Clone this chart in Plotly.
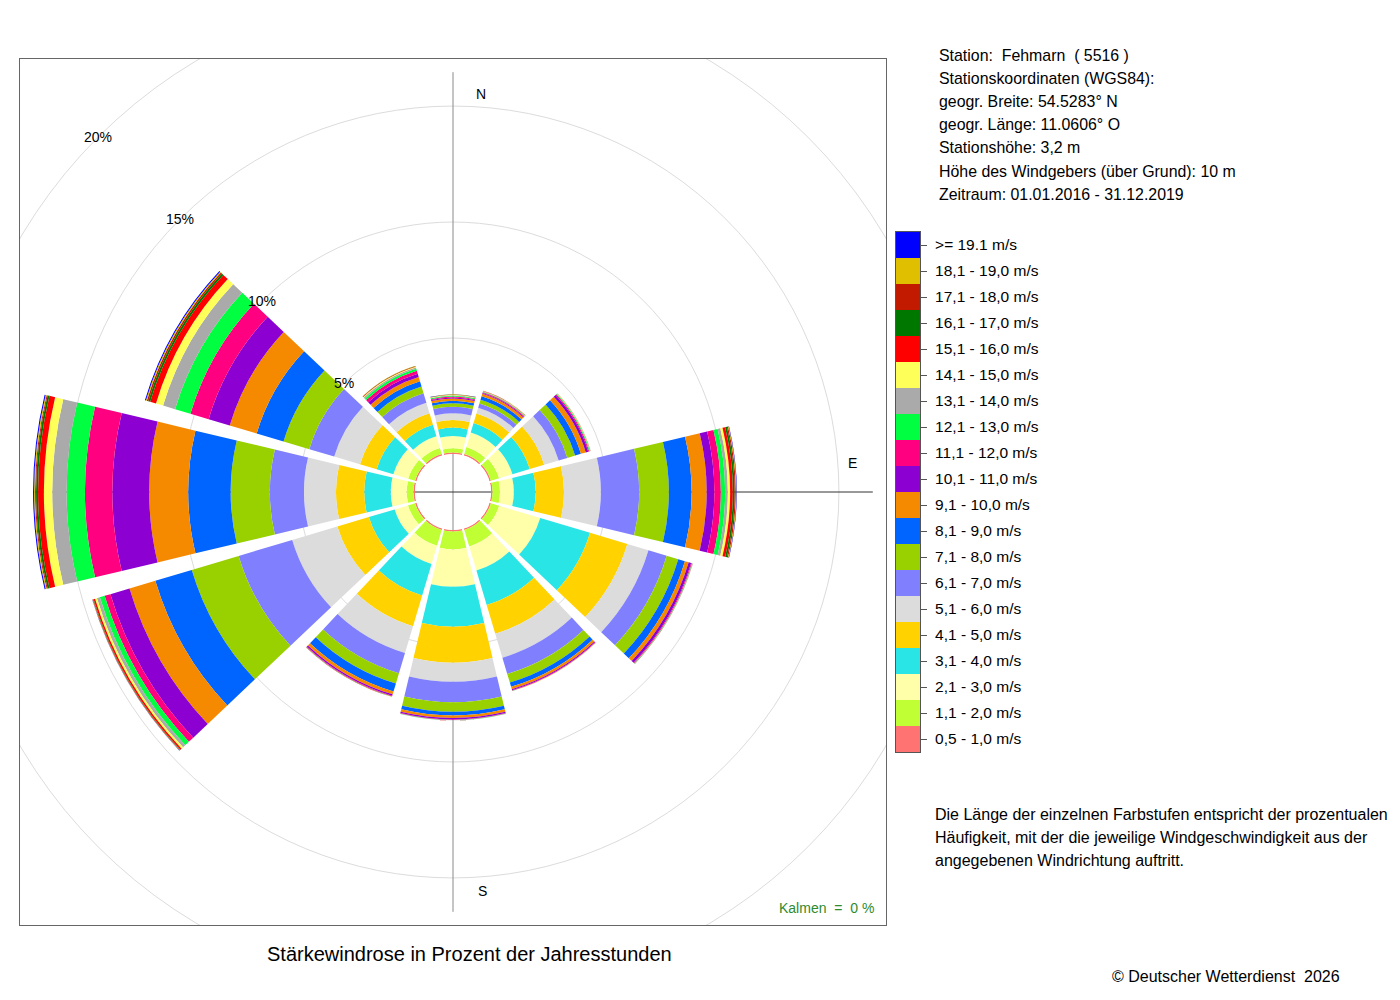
import math
import plotly.graph_objects as go

# ---------------- data (percent of hours) ----------------
directions = [0, 30, 60, 90, 120, 150, 180, 210, 240, 270, 300, 330]

speed_classes = [
    "0,5 - 1,0 m/s", "1,1 - 2,0 m/s", "2,1 - 3,0 m/s", "3,1 - 4,0 m/s",
    "4,1 - 5,0 m/s", "5,1 - 6,0 m/s", "6,1 - 7,0 m/s", "7,1 - 8,0 m/s",
    "8,1 - 9,0 m/s", "9,1 - 10,0 m/s", "10,1 - 11,0 m/s", "11,1 - 12,0 m/s",
    "12,1 - 13,0 m/s", "13,1 - 14,0 m/s", "14,1 - 15,0 m/s", "15,1 - 16,0 m/s",
    "16,1 - 17,0 m/s", "17,1 - 18,0 m/s", "18,1 - 19,0 m/s", ">= 19.1 m/s",
]

class_colors = [
    "#FF7373", "#BFFF33", "#FFFFAA", "#29E5E5", "#FFD200", "#DCDCDC",
    "#8080FF", "#99D000", "#0064FF", "#F58A00", "#8C00D2", "#FF0080",
    "#00FF40", "#AAAAAA", "#FFFF5A", "#FF0000", "#007800", "#C21A00",
    "#E0BE00", "#0000FF",
]

# values per direction, one entry per speed class (same order as speed_classes)
sector_000 = [0.065, 0.18, 0.53, 0.36, 0.33, 0.29, 0.28, 0.15, 0.11, 0.10, 0.04, 0.04, 0.035, 0.02, 0.017, 0.018, 0.004, 0.004, 0.002, 0.003]
sector_030 = [0.065, 0.32, 0.65, 0.43, 0.43, 0.26, 0.19, 0.17, 0.15, 0.11, 0.04, 0.034, 0.022, 0.013, 0.009, 0.009, 0.004, 0.004, 0.002, 0.002]
sector_060 = [0.065, 0.37, 0.60, 0.78, 0.65, 0.65, 0.39, 0.35, 0.26, 0.22, 0.11, 0.043, 0.03, 0.013, 0.009, 0.004, 0.002, 0.003, 0.001, 0.002]
sector_090 = [0.065, 0.32, 0.60, 0.94, 1.22, 1.59, 1.65, 1.28, 0.98, 0.65, 0.33, 0.28, 0.185, 0.117, 0.099, 0.116, 0.078, 0.051, 0.026, 0.018]
sector_120 = [0.065, 0.37, 1.85, 2.24, 1.68, 0.95, 0.82, 0.52, 0.30, 0.17, 0.11, 0.035, 0.017, 0.009, 0.004, 0.004, 0.003, 0.002, 0.001, 0.001]
sector_150 = [0.065, 0.75, 1.08, 1.55, 1.29, 1.08, 0.73, 0.39, 0.19, 0.11, 0.043, 0.022, 0.009, 0.004, 0.002, 0.002, 0.001, 0.001, 0.0, 0.0]
sector_180 = [0.065, 0.77, 1.61, 1.72, 1.55, 0.82, 0.89, 0.41, 0.16, 0.11, 0.056, 0.022, 0.009, 0.004, 0.002, 0.002, 0.001, 0.001, 0.0, 0.0]
sector_210 = [0.065, 0.71, 0.82, 1.42, 1.38, 1.21, 0.91, 0.46, 0.36, 0.13, 0.065, 0.03, 0.013, 0.004, 0.002, 0.002, 0.001, 0.001, 0.0, 0.0]
sector_240 = [0.065, 0.32, 0.60, 1.16, 1.42, 2.03, 2.41, 2.11, 1.64, 1.16, 0.86, 0.26, 0.215, 0.13, 0.086, 0.064, 0.022, 0.022, 0.012, 0.009]
sector_270 = [0.065, 0.29, 0.69, 1.14, 1.22, 1.38, 1.47, 1.69, 1.83, 1.68, 1.59, 1.18, 0.79, 0.62, 0.36, 0.25, 0.086, 0.043, 0.043, 0.044]
sector_300 = [0.065, 0.31, 0.67, 0.75, 0.75, 1.16, 1.12, 1.16, 1.21, 1.21, 0.95, 0.82, 0.69, 0.54, 0.32, 0.26, 0.086, 0.065, 0.043, 0.043]
sector_330 = [0.065, 0.28, 0.52, 0.52, 0.52, 0.47, 0.43, 0.30, 0.24, 0.19, 0.15, 0.13, 0.086, 0.065, 0.034, 0.022, 0.008, 0.004, 0.003, 0.002]

sectors = [sector_000, sector_030, sector_060, sector_090, sector_120, sector_150,
           sector_180, sector_210, sector_240, sector_270, sector_300, sector_330]

ring_values = [5, 10, 15, 20]
ring_labels = ["5%", "10%", "15%", "20%"]

station_lines = [
    "Station:  Fehmarn  ( 5516 )",
    "Stationskoordinaten (WGS84):",
    "geogr. Breite: 54.5283° N",
    "geogr. Länge: 11.0606° O",
    "Stationshöhe: 3,2 m",
    "Höhe des Windgebers (über Grund): 10 m",
    "Zeitraum: 01.01.2016 - 31.12.2019",
]
note_lines = [
    "Die Länge der einzelnen Farbstufen entspricht der prozentualen",
    "Häufigkeit, mit der die jeweilige Windgeschwindigkeit aus der",
    "angegebenen Windrichtung auftritt.",
]
calm_text = "Kalmen  =  0 %"
title_text = "Stärkewindrose in Prozent der Jahresstunden"
copyright_text = "© Deutscher Wetterdienst  2026"

# ---------------- layout geometry ----------------
W, H = 1400, 1000
FONT = "Liberation Sans, Arial, Helvetica, sans-serif"
BOX_X = (20, 886)
BOX_Y = (59, 925)
HOLE = 1.64       # calm circle radius, in percent units
RMAX = 17.03      # radial range shown by the polar subplot
LIM = HOLE + RMAX


def px(x):
    return x / W


def py(y):
    return 1 - y / H


def nb(s):
    return s.replace(" ", "\u00a0")


xdom = [px(BOX_X[0]), px(BOX_X[1])]
ydom = [py(BOX_Y[1]), py(BOX_Y[0])]

fig = go.Figure()

# axis cross (drawn beneath the bars)
totals = [sum(s) for s in sectors]
reach = HOLE + max(totals)
fig.add_trace(go.Scatter(x=[0, 0], y=[-reach, reach], mode="lines",
                         line=dict(color="#8A8A8A", width=1),
                         hoverinfo="skip", showlegend=False))
fig.add_trace(go.Scatter(x=[-reach, reach], y=[0, 0], mode="lines",
                         line=dict(color="#333333", width=1),
                         hoverinfo="skip", showlegend=False))

# wind rose bars
for ci, (name, col) in enumerate(zip(speed_classes, class_colors)):
    fig.add_trace(go.Barpolar(
        r=[s[ci] for s in sectors],
        theta=directions,
        width=[26.8] * len(directions),
        marker=dict(color=col, line=dict(width=0)),
        name=name, showlegend=False, hoverinfo="skip",
    ))

# legend column
fig.add_trace(go.Bar(
    x=[1] * len(speed_classes), y=speed_classes, orientation="h",
    marker=dict(color=class_colors, line=dict(width=0)), width=1,
    xaxis="x2", yaxis="y2", showlegend=False, hoverinfo="skip",
))

shapes = []
for v in ring_values:
    rr = HOLE + v
    shapes.append(dict(type="circle", xref="x", yref="y", x0=-rr, y0=-rr,
                       x1=rr, y1=rr, layer="below",
                       line=dict(color="#DCDCDC", width=1)))

ann = []
ang = math.radians(315)
for v, lab in zip(ring_values, ring_labels):
    rr = HOLE + v
    ann.append(dict(x=rr * math.sin(ang), y=rr * math.cos(ang), xref="x", yref="y",
                    text=lab, showarrow=False, xanchor="center", yanchor="middle",
                    font=dict(size=14, color="black")))

for lab, (x, y) in zip(["N", "E", "S"], [(481, 94), (852, 463), (482, 891)]):
    ann.append(dict(x=px(x), y=py(y), xref="paper", yref="paper", text=lab,
                    showarrow=False, xanchor="center", yanchor="middle",
                    font=dict(size=14, color="black")))

for i, line in enumerate(station_lines):
    ann.append(dict(x=px(937), y=py(55 + i * 23.2), xref="paper", yref="paper",
                    text=nb(line), showarrow=False, xanchor="left", yanchor="middle",
                    font=dict(size=15.9, color="black")))

for i, line in enumerate(note_lines):
    ann.append(dict(x=px(933), y=py(814 + i * 23), xref="paper", yref="paper",
                    text=nb(line), showarrow=False, xanchor="left", yanchor="middle",
                    font=dict(size=16, color="black")))

ann.append(dict(x=px(876), y=py(908), xref="paper", yref="paper", text=nb(calm_text),
                showarrow=False, xanchor="right", yanchor="middle",
                font=dict(size=14, color="#2E8B2E")))
ann.append(dict(x=px(470), y=py(954), xref="paper", yref="paper", text=title_text,
                showarrow=False, xanchor="center", yanchor="middle",
                font=dict(size=20, color="black")))
ann.append(dict(x=px(1342), y=py(976), xref="paper", yref="paper", text=nb(copyright_text),
                showarrow=False, xanchor="right", yanchor="middle",
                font=dict(size=16, color="black")))

box_axis = dict(range=[-LIM, LIM], showgrid=False, zeroline=False, showticklabels=False,
                ticks="", showline=True, mirror=True, linecolor="#666666", linewidth=1,
                fixedrange=True)

fig.update_layout(
    width=W, height=H, margin=dict(l=0, r=0, t=0, b=0, pad=0),
    template="none", paper_bgcolor="white", plot_bgcolor="rgba(0,0,0,0)",
    font=dict(family=FONT, color="black"),
    showlegend=False,
    xaxis=dict(domain=xdom, anchor="y", **box_axis),
    yaxis=dict(domain=ydom, anchor="x", **box_axis),
    xaxis2=dict(domain=[px(896), px(920)], anchor="y2", range=[0, 1],
                showgrid=False, zeroline=False, showticklabels=False, ticks="",
                showline=True, mirror=True, linecolor="#555555", linewidth=1,
                fixedrange=True),
    yaxis2=dict(domain=[py(752), py(232)], anchor="x2", side="right",
                type="category", range=[-0.5, len(speed_classes) - 0.5],
                showgrid=False, zeroline=False, ticks="outside", ticklen=6,
                tickcolor="#555555", tickwidth=1, ticklabelstandoff=5,
                showline=True, mirror=True, linecolor="#555555", linewidth=1,
                tickfont=dict(size=15.5, color="black"), fixedrange=True),
    polar=dict(
        domain=dict(x=xdom, y=ydom),
        hole=HOLE / LIM,
        bgcolor="rgba(0,0,0,0)",
        barmode="stack",
        radialaxis=dict(range=[0, RMAX], visible=False, showgrid=False),
        angularaxis=dict(rotation=90, direction="clockwise", visible=False,
                         showgrid=False, showline=False, ticks=""),
    ),
    shapes=shapes,
    annotations=ann,
)

fig.write_html(
    "out.html",
    config={"displayModeBar": False},
    post_script="document.body.style.margin='0';document.body.style.overflow='hidden';",
)
